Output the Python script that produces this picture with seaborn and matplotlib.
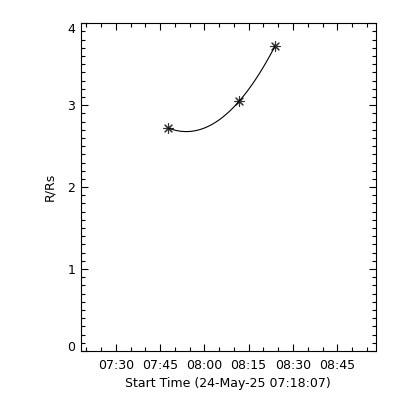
import numpy as np
import pandas as pd
import matplotlib
matplotlib.use("Agg")
import matplotlib.pyplot as plt
import seaborn as sns

# ---- data ----
start_time = "07:18:07"
end_time = "08:58:07"
obs_times = ["07:47:48", "08:11:49", "08:23:54"]
r_values = [2.72, 3.05, 3.72]
xtick_labels = ["07:30", "07:45", "08:00", "08:15", "08:30", "08:45"]
ytick_values = [0, 1, 2, 3, 4]
xlabel_text = "Start Time (24-May-25 07:18:07)"
ylabel_text = "R/Rs"


def to_min(t):
    parts = [int(p) for p in t.split(":")]
    while len(parts) < 3:
        parts.append(0)
    return parts[0] * 60 + parts[1] + parts[2] / 60.0


t0 = to_min(start_time)
df = pd.DataFrame({
    "t": [to_min(t) - t0 for t in obs_times],
    "r": r_values,
})

sns.set_theme(style="white")
plt.rcParams["font.family"] = ["DejaVu Sans"]

fig = plt.figure(figsize=(4, 4), dpi=100)
ax = fig.add_axes([0.2018, 0.1225, 0.94 - 0.2018, 0.942 - 0.1225])

sns.regplot(data=df, x="t", y="r", order=2, ci=None, ax=ax,
            marker=(8, 2, 0),
            scatter_kws={"s": 50, "color": "black", "linewidths": 0.8},
            line_kws={"color": "black", "lw": 0.8})

xmax = to_min(end_time) - t0

major_x = [to_min(l) - t0 for l in xtick_labels]
ax.set_xticks(major_x)
ax.set_xticklabels(xtick_labels)
ax.set_xticks(np.arange(to_min("07:20") - t0, xmax, 5.0), minor=True)
ax.set_yticks(ytick_values)
ax.set_yticklabels([str(v) for v in ytick_values])
ax.set_yticks(np.arange(0, 4.0001, 0.1), minor=True)

ax.tick_params(which="both", direction="in", top=True, right=True,
               bottom=True, left=True, colors="black", labelsize=9,
               width=0.8)
ax.tick_params(which="major", length=5)
ax.tick_params(which="minor", length=3)
ax.tick_params(axis="x", which="major", pad=6)
ax.tick_params(axis="y", which="major", pad=4)

ax.set_xlim(0, xmax)
ax.set_ylim(0, 4)

# end labels sit inside the axis range, as in the reference
ylabs = ax.get_yticklabels()
ylabs[0].set_verticalalignment("baseline")
ylabs[-1].set_verticalalignment("top")

for s in ax.spines.values():
    s.set_color("black")
    s.set_linewidth(0.8)
    s.set_visible(True)

ax.set_xlabel(xlabel_text, fontsize=9, labelpad=3, color="black")
ax.set_ylabel(ylabel_text, fontsize=9, labelpad=8, color="black")
ax.grid(False)

fig.savefig("out.png", dpi=100, facecolor="white")
